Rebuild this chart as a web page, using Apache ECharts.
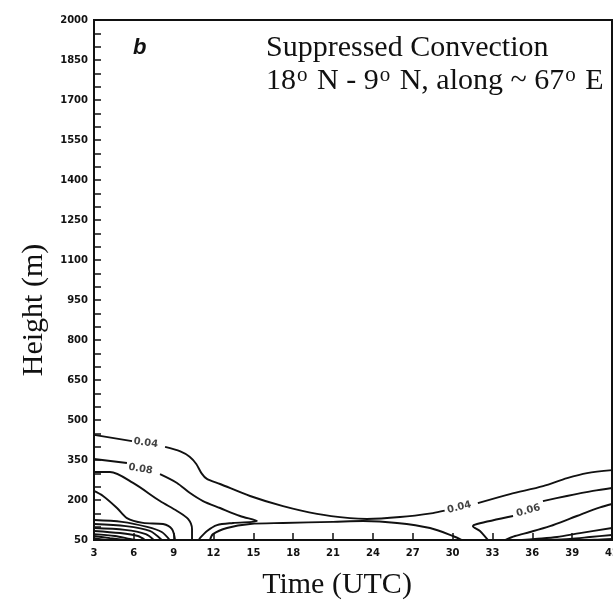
<!DOCTYPE html>
<html>
<head>
<meta charset="utf-8">
<script src="https://cdn.jsdelivr.net/npm/echarts@6/dist/echarts.min.js"></script>
<style>
  html, body { margin: 0; padding: 0; background: #fff; }
  #chart { width: 613px; height: 607px; }
</style>
</head>
<body>
<div id="chart"></div>
<script>
// axis ticks
const timeMin = 3, timeMax = 42, timeStep = 3;
const heightMin = 50, heightMax = 2000, heightStep = 150;

// contour lines, [time (UTC), height (m)], null = gap for a label
const contour004 = [[3, 444], [5.86, 421], null, [8.35, 399], [9.5, 382], [10.2, 362], [10.7, 335], [11.1, 300], [11.5, 279], [12.49, 260], [14.75, 215], [17.23, 177], [19.79, 148], [22.27, 132], [23.55, 129], [26.04, 136], [28.52, 151], [29.4, 160], null, [31.9, 188], [34.32, 222], [36.81, 252], [38.62, 282], [40.12, 301], [42, 312]];
const contour006Left = [[3, 354], [5.48, 339], null, [7.97, 297], [9.25, 264], [10.23, 226], [11.21, 196], [12.49, 170], [14.0, 140], [15.27, 121], [13.47, 114], [12.26, 106], [11.51, 84], [10.98, 57], [10.9, 50]];
const contour006Right = [[32.66, 50], [32.59, 54], [32.06, 84], [31.53, 102], [31.84, 110], [34.55, 140], null, [36.8, 196], [38.6, 215], [40.57, 234], [42, 245]];
const contourMid = [[11.73, 50], [11.96, 72], [13.01, 95], [14.75, 110], [17.23, 114], [21.0, 118], [23.25, 121], [25.81, 114], [28.3, 95], [30.03, 65], [30.7, 50]];
const contourLeftD = [[3, 305], [4.2, 305], [5.94, 264], [7.97, 196], [9.25, 159], [10.08, 129], [10.38, 91], [10.38, 50]];
const contourLeftE = [[3, 234], [3.68, 215], [4.73, 170], [5.48, 132], [6.69, 114], [8.2, 110], [8.87, 91], [9.1, 50]];
const contourLeft1 = [[3, 125], [5.1, 118], [7.0, 99], [8.1, 80], [8.7, 50]];
const contourLeft2 = [[3, 110], [5.4, 102], [7.2, 84], [8.1, 50]];
const contourLeft3 = [[3, 95], [5.33, 88], [6.9, 72], [7.5, 50]];
const contourLeft4 = [[3, 84], [4.96, 76], [6.31, 65], [6.84, 50]];
const contourLeft5 = [[3, 72], [4.58, 65], [5.71, 54], [6.16, 50]];
const contourLeft6 = [[3, 65], [4.2, 57], [5.33, 50]];
const contourLeft7 = [[3, 57], [3.83, 50]];
const contourRightF = [[33.94, 50], [34.7, 65], [35.83, 80], [37.33, 102], [38.84, 130], [39.97, 152], [41.1, 172], [42, 185]];
const contourRightG = [[35.22, 50], [36.2, 54], [37.86, 61], [39.59, 76], [42, 95]];
const contourRightH = [[37.18, 50], [38.84, 54], [40.34, 61], [42, 69]];
const contourRightI = [[39.4, 50], [40.7, 51], [42, 54]];

// contour labels
const labelText = ['0.04', '0.08', '0.04', '0.06'];
const labelTime = [6.9, 6.5, 30.5, 35.7];
const labelHeight = [414, 316, 172, 160];

const allContours = [contour004, contour006Left, contour006Right, contourMid, contourLeftD, contourLeftE,
  contourLeft1, contourLeft2, contourLeft3, contourLeft4, contourLeft5, contourLeft6, contourLeft7,
  contourRightF, contourRightG, contourRightH, contourRightI];

const chart = echarts.init(document.getElementById('chart'));
const labelTilt = [-8, -10, 14, 16];
const tickFont = { fontFamily: 'DejaVu Sans', fontWeight: 'bold', fontSize: 10, color: '#111' };

const series = allContours.map(function (pts) {
  return {
    type: 'line',
    data: pts.map(function (p) { return p ? p : [null, null]; }),
    showSymbol: false,
    smooth: 0.3,
    connectNulls: false,
    silent: true,
    lineStyle: { color: '#111', width: 1.9 }
  };
});
series.push({
  type: 'scatter',
  symbolSize: 0,
  silent: true,
  data: labelText.map(function (t, i) {
    return { name: t, value: [labelTime[i], labelHeight[i]], label: { rotate: labelTilt[i] } };
  }),
  label: Object.assign({ show: true, position: 'inside', formatter: '{b}' }, tickFont)
});

chart.setOption({
  backgroundColor: '#fff',
  animation: false,
  title: [
    { text: 'b', left: 128, top: 32, textStyle: { fontFamily: 'Liberation Sans', fontStyle: 'italic', fontWeight: 'bold', fontSize: 22, color: '#111' } },
    { text: 'Suppressed Convection', left: 261, top: 28, textStyle: { fontFamily: 'Liberation Serif', fontWeight: 'normal', fontSize: 30, color: '#111' } },
    {
      text: '18{s|o} N - 9{s|o} N, along ~ 67{s|o} E', left: 261, top: 60,
      textStyle: {
        fontFamily: 'Liberation Serif', fontWeight: 'normal', fontSize: 30, lineHeight: 32, color: '#111',
        rich: { s: { fontFamily: 'Liberation Serif', fontSize: 21, lineHeight: 18, verticalAlign: 'top', color: '#111', padding: [0, 2, 0, 1] } }
      }
    }
  ],
  grid: {
    left: 94, right: 1, top: 20, bottom: 67, outerBoundsMode: 'none', containLabel: false,
    show: true, borderColor: '#111', borderWidth: 2, backgroundColor: 'transparent'
  },
  xAxis: {
    type: 'value', min: timeMin, max: timeMax, interval: timeStep,
    name: 'Time (UTC)', nameLocation: 'middle', nameGap: 30,
    nameTextStyle: { fontFamily: 'Liberation Serif', fontSize: 30, color: '#111', padding: [0, 32, 0, 0] },
    axisLine: { lineStyle: { color: '#111', width: 2 } },
    axisTick: { inside: true, length: 7, lineStyle: { color: '#111', width: 1.5 } },
    axisLabel: Object.assign({ margin: 8, hideOverlap: false }, tickFont),
    splitLine: { show: false }
  },
  yAxis: {
    type: 'value', min: heightMin, max: heightMax, interval: heightStep,
    name: 'Height (m)', nameLocation: 'middle', nameGap: 44, nameRotate: 90,
    nameTextStyle: { fontFamily: 'Liberation Serif', fontSize: 30, color: '#111', padding: [0, 60, 0, 0] },
    axisLine: { lineStyle: { color: '#111', width: 2 } },
    axisTick: { inside: true, length: 7, lineStyle: { color: '#111', width: 1.5 } },
    minorTick: { show: true, splitNumber: 3, length: 7, lineStyle: { color: '#111', width: 1.5 } },
    axisLabel: Object.assign({ margin: 6, formatter: function (v) { return String(v); } }, tickFont),
    splitLine: { show: false }
  },
  series: series
});
window.addEventListener('resize', function () { chart.resize(); });
</script>
</body>
</html>
